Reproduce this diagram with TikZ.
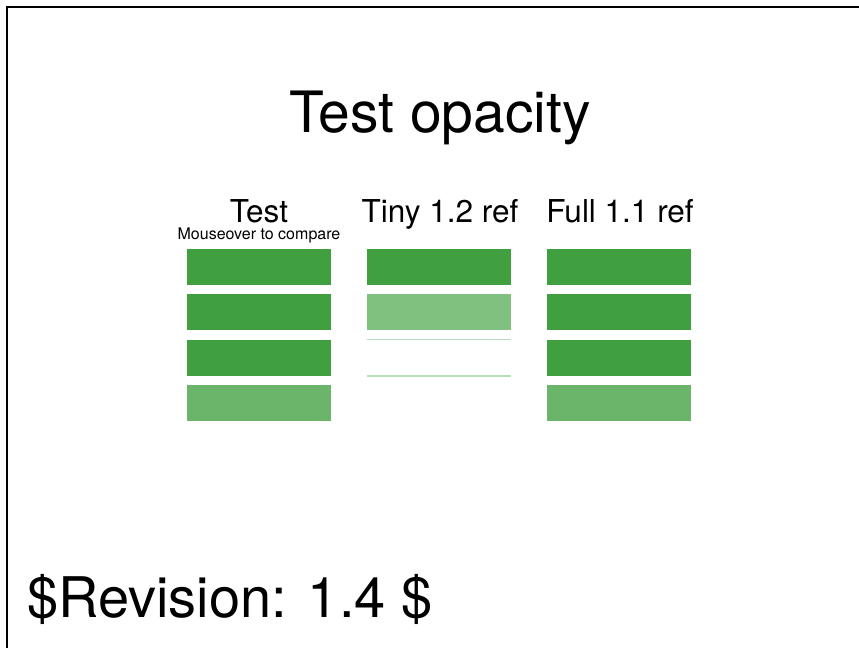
\documentclass[tikz,border=0pt]{standalone}
\usepackage{fontspec}
\setmainfont{TeX Gyre Heros}
\usetikzlibrary{positioning}
\definecolor{fullgreen}{RGB}{64,160,64}
\definecolor{testlight}{RGB}{107,181,107}
\definecolor{tinylight}{RGB}{128,193,128}
\definecolor{edgegreen}{RGB}{186,224,186}

\begin{document}
\begin{tikzpicture}[x=1pt,y=-1pt,
	bar/.style={inner sep=0pt, minimum width=144pt, minimum height=36pt},
	lbl/.style={inner sep=0pt, anchor=base, font=\fontsize{31.5}{33}\selectfont},
	node distance=9pt]
	\useasboundingbox (0,0) rectangle (859,648);
	\draw[line width=2pt] (7,648) -- (7,7) -- (859,7);

	\node[inner sep=0pt, anchor=base, font=\fontsize{57}{60}\selectfont] (title) at (440,132) {Test opacity};

	% test column
	\node[lbl] (test) at (259,222) {Test};
	\node[inner sep=0pt, anchor=base, font=\fontsize{16}{18}\selectfont] (hint) at (259,239) {Mouseover to compare};
	\node[bar, fill=fullgreen] (t1) at (259,267) {};
	\node[bar, fill=fullgreen, below=of t1] (t2) {};
	\node[bar, fill=fullgreen, below=of t2] (t3) {};
	\node[bar, fill=testlight, below=of t3] (t4) {};

	% tiny 1.2 reference
	\node[lbl] (tiny) at (440,222) {Tiny 1.2 ref};
	\node[bar, fill=fullgreen] (r1) at (439,267) {};
	\node[bar, fill=tinylight, below=of r1] (r2) {};
	\node[bar, below=of r2] (r3) {};
	\draw[edgegreen, line width=1.5pt] (r3.north west) -- (r3.north east);
	\draw[edgegreen, line width=1.5pt] (r3.south west) -- (r3.south east);

	% full 1.1 reference
	\node[lbl] (full) at (620,222) {Full 1.1 ref};
	\node[bar, fill=fullgreen] (f1) at (619,267) {};
	\node[bar, fill=fullgreen, below=of f1] (f2) {};
	\node[bar, fill=fullgreen, below=of f2] (f3) {};
	\node[bar, fill=testlight, below=of f3] (f4) {};

	\node[inner sep=0pt, anchor=base west, font=\fontsize{56}{60}\selectfont] (rev) at (27,617) {\$Revision: 1.4 \$};
\end{tikzpicture}
\end{document}
